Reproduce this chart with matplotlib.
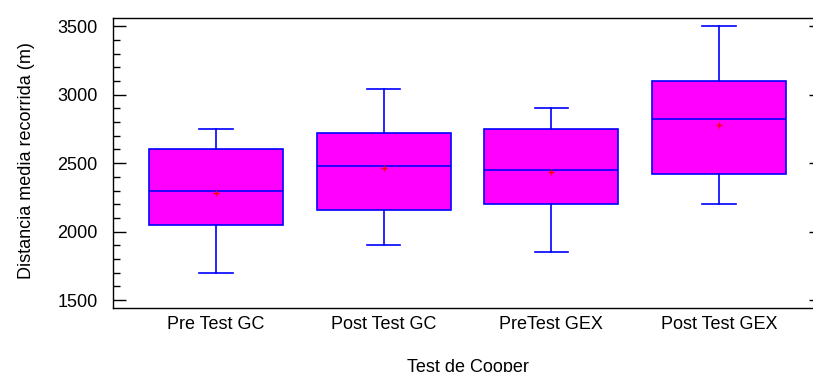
import matplotlib
matplotlib.use("Agg")
import matplotlib.pyplot as plt
from matplotlib.ticker import MultipleLocator

plt.rcParams['font.family'] = ['Liberation Sans', 'DejaVu Sans']

# boxplot summary (metres)
groups = ["Pre Test GC", "Post Test GC", "PreTest GEX", "Post Test GEX"]
whisk_lo = [1700, 1900, 1850, 2200]
q1 = [2050, 2160, 2200, 2420]
med = [2300, 2480, 2450, 2825]
q3 = [2600, 2720, 2750, 3100]
whisk_hi = [2750, 3040, 2900, 3500]
means = [2285, 2461, 2434, 2780]

stats = []
for i in range(len(groups)):
    stats.append({"label": groups[i], "whislo": whisk_lo[i], "q1": q1[i],
                  "med": med[i], "q3": q3[i], "whishi": whisk_hi[i],
                  "mean": means[i], "fliers": []})

fig = plt.figure(figsize=(8.13, 3.72), dpi=100, facecolor='w')
# right edge of the plot box sits just past the picture edge
ax = fig.add_axes([113/813, 64/372, 709/813, 289.7/372])

blue = '#0000FF'
ax.bxp(stats, positions=range(1, 5), widths=0.8, capwidths=0.2,
       showmeans=True, patch_artist=True,
       boxprops=dict(facecolor='#FF00FF', edgecolor=blue, linewidth=1.2),
       medianprops=dict(color=blue, linewidth=1.2),
       whiskerprops=dict(color=blue, linewidth=1.2),
       capprops=dict(color=blue, linewidth=1.2),
       meanprops=dict(marker='+', markeredgecolor='red', markersize=5,
                      markeredgewidth=1.0))

ax.set_xlim(0.386, 4.614)
ax.set_ylim(1442, 3558)
ax.yaxis.set_major_locator(MultipleLocator(500))
ax.yaxis.set_minor_locator(MultipleLocator(100))

ax.spines['right'].set_visible(False)
for s in ['left', 'bottom', 'top']:
    ax.spines[s].set_linewidth(1.0)

ax.tick_params(axis='x', length=0, pad=6, labelsize=13)
ax.tick_params(axis='y', which='major', direction='in', length=9.5, width=1.0,
               pad=11, labelsize=13, right=True)
ax.tick_params(axis='y', which='minor', direction='in', length=5, width=1.0,
               right=False)

ax.set_ylabel('Distancia media recorrida (m)', fontsize=13)
ax.yaxis.set_label_coords(-0.11, 0.51)
ax.set_xlabel('Test de Cooper', fontsize=13)
ax.xaxis.set_label_coords(0.5, -0.175)

plt.savefig('out.png', dpi=100)
